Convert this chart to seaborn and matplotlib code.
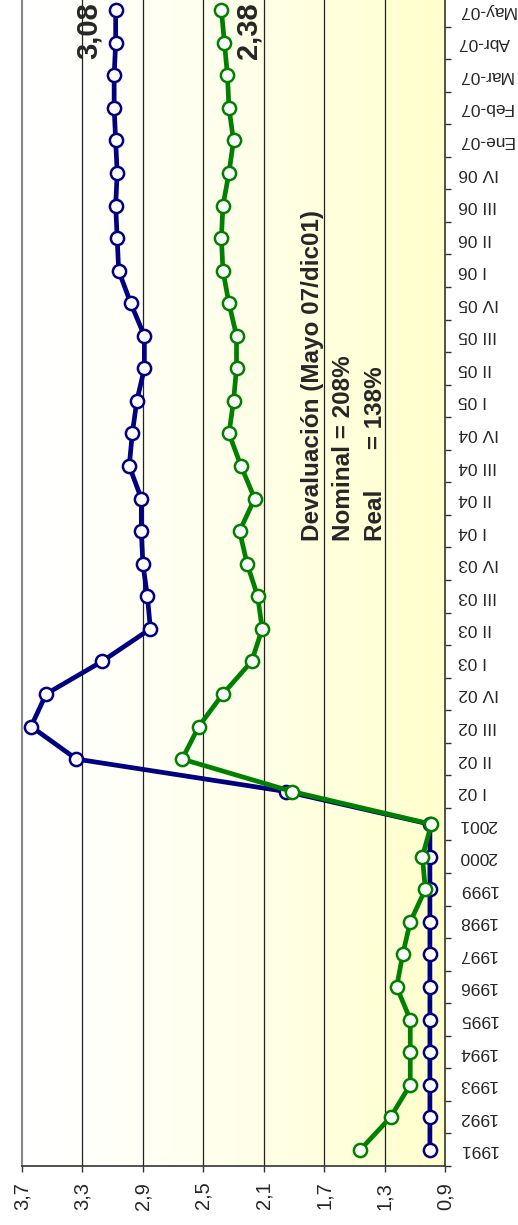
import numpy as np
import pandas as pd
import matplotlib
matplotlib.use('Agg')
import matplotlib.pyplot as plt
import seaborn as sns
from matplotlib.colors import LinearSegmentedColormap

########### Datos ############
periodos = ['1991', '1992', '1993', '1994', '1995', '1996', '1997', '1998', '1999', '2000', '2001',
            'I 02', 'II 02', 'III 02', 'IV 02', 'I 03', 'II 03', 'III 03', 'IV 03',
            'I 04', 'II 04', 'III 04', 'IV 04', 'I 05', 'II 05', 'III 05', 'IV 05',
            'I 06', 'II 06', 'III 06', 'IV 06', 'Ene-07', 'Feb-07', 'Mar-07', 'Abr-07', 'May-07']

nominal = [1.00, 1.00, 1.00, 1.00, 1.00, 1.00, 1.00, 1.00, 1.00, 1.00, 1.00,
           1.95, 3.34, 3.64, 3.54, 3.17, 2.85, 2.87, 2.90,
           2.91, 2.91, 2.99, 2.97, 2.94, 2.89, 2.89, 2.98,
           3.06, 3.07, 3.08, 3.07, 3.08, 3.09, 3.09, 3.08, 3.08]

real = [1.46, 1.26, 1.13, 1.13, 1.13, 1.22, 1.18, 1.13, 1.03, 1.05, 0.99,
        1.91, 2.64, 2.53, 2.37, 2.18, 2.11, 2.14, 2.21,
        2.26, 2.16, 2.25, 2.33, 2.30, 2.28, 2.28, 2.33,
        2.37, 2.38, 2.37, 2.33, 2.30, 2.33, 2.34, 2.36, 2.38]

valores_eje = [3.7, 3.3, 2.9, 2.5, 2.1, 1.7, 1.3, 0.9]
etiquetas_eje = ['3,7', '3,3', '2,9', '2,5', '2,1', '1,7', '1,3', '0,9']

df = pd.DataFrame({'pos': np.arange(len(periodos)), 'nominal': nominal, 'real': real})

########### Grafica (girada 90 grados) ############
sns.set_style('white')
plt.rcParams['font.family'] = ['Liberation Sans', 'DejaVu Sans']

fig = plt.figure(figsize=(5.18, 12.25), dpi=100)
ax = fig.add_axes([22 / 518, 59 / 1225, (445 - 22) / 518, (1231 - 59) / 1225])

# fondo degradado blanco -> amarillo
cmap = LinearSegmentedColormap.from_list('fondo', ['#FFFFFF', '#FFFFCC'])
grad = np.linspace(0, 1, 256).reshape(1, -1) ** 1.3
ax.imshow(grad, cmap=cmap, aspect='auto', extent=(3.7, 0.9, -0.5, 35.5), zorder=0)

for v in valores_eje[1:-1]:
    ax.axvline(v, color='#222222', lw=0.9, zorder=1)

sns.lineplot(data=df, x='nominal', y='pos', sort=False, estimator=None, ax=ax,
             color='#000080', lw=3.4, marker='o', markersize=9.5,
             markerfacecolor='white', markeredgecolor='#000080', markeredgewidth=1.8, zorder=3)
sns.lineplot(data=df, x='real', y='pos', sort=False, estimator=None, ax=ax,
             color='#008000', lw=3.4, marker='o', markersize=9.5,
             markerfacecolor='white', markeredgecolor='#008000', markeredgewidth=1.8, zorder=4)

ax.set_xlim(3.7, 0.9)
ax.set_ylim(-0.5, 35.5)
ax.set_xlabel('')
ax.set_ylabel('')

# eje de valores (abajo)
ax.set_xticks(valores_eje)
ax.set_xticklabels(etiquetas_eje, rotation=90, fontsize=14.5)
ax.tick_params(axis='x', direction='out', length=4.3, width=1, color='#333333', pad=7, bottom=True)

# eje de categorias (derecha)
ax.yaxis.tick_right()
ax.set_yticks(np.arange(len(periodos)))
ax.set_yticklabels(periodos, rotation=180, fontsize=12.5, va='center')
ax.set_yticks(np.arange(-0.5, len(periodos), 1), minor=True)
ax.tick_params(axis='y', which='major', length=0, pad=9.5, right=True)
ax.tick_params(axis='y', which='minor', length=4.3, width=1, color='#333333', right=True, left=False)

ax.spines['top'].set_visible(False)
ax.spines['left'].set_color('#888888')
ax.spines['left'].set_linewidth(1.5)
ax.spines['bottom'].set_color('#333333')
ax.spines['bottom'].set_linewidth(1.2)
ax.spines['right'].set_color('#333333')
ax.spines['right'].set_linewidth(1.2)

# textos
ax.text(1.78, 18.7, 'Devaluación (Mayo 07/dic01)', rotation=90, fontsize=17.5, fontweight='bold',
        ha='center', va='bottom', zorder=5)
ax.text(1.57, 18.7, 'Nominal = 208%', rotation=90, fontsize=17.5, fontweight='bold',
        ha='center', va='bottom', zorder=5)
ax.text(1.36, 18.7, 'Real      = 138%', rotation=90, fontsize=17.5, fontweight='bold',
        ha='center', va='bottom', zorder=5)
ax.text(3.26, 35.25, '3,08', rotation=90, fontsize=21, fontweight='bold',
        ha='center', va='top', zorder=5)
ax.text(2.2, 35.25, '2,38', rotation=90, fontsize=21, fontweight='bold',
        ha='center', va='top', zorder=5)

plt.savefig('out.png', dpi=100)
